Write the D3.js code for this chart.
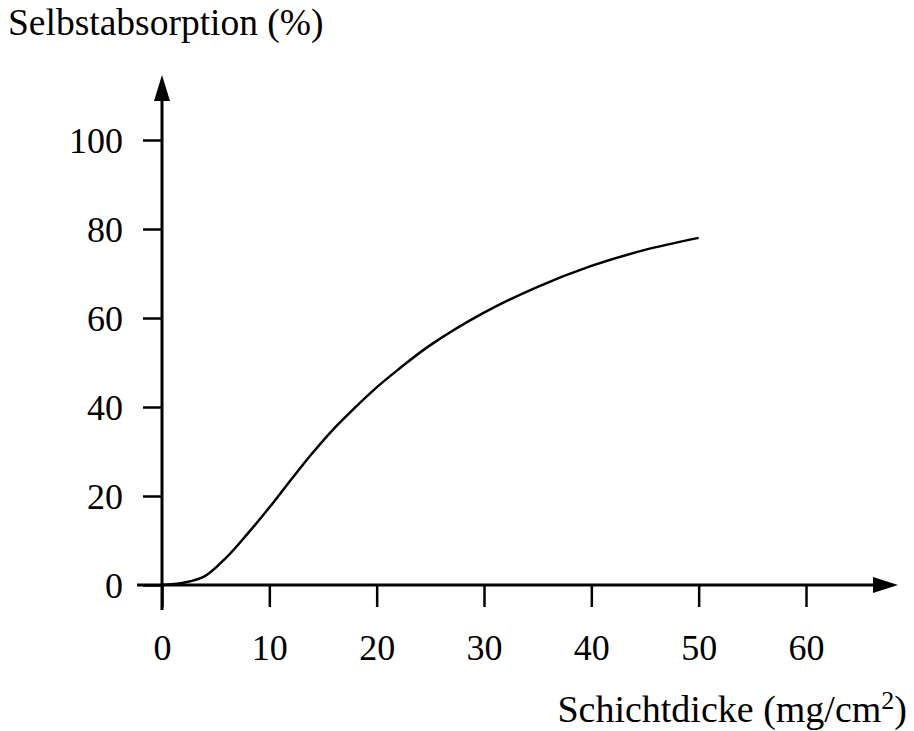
<!DOCTYPE html>
<html>
<head>
<meta charset="utf-8">
<script src="https://d3js.org/d3.v7.min.js"></script>
<style>
  body { margin: 0; background: #fff; }
  text { font-family: "Liberation Serif", "Times New Roman", serif; fill: #000; }
</style>
</head>
<body>
<script>
  // values
  var thickness = [0, 2, 4, 6, 8, 10, 12, 14, 16, 18, 20, 22, 25, 30, 35, 40, 45, 50];
  var absorption = [0, 0.5, 2, 6.2, 11.6, 17.4, 23.6, 29.6, 35.1, 39.9, 44.4, 48.4, 53.9, 61.2, 67, 71.7, 75.3, 78];
  var xTicks = [0, 10, 20, 30, 40, 50, 60];
  var yTicks = [0, 20, 40, 60, 80, 100];

  var width = 914, height = 731;

  var svg = d3.select("body").append("svg")
      .attr("width", width)
      .attr("height", height);

  var x = d3.scaleLinear().domain([0, 60]).range([162, 806]);
  var y = d3.scaleLinear().domain([0, 100]).range([585, 140]);

  // x axis ticks + labels
  var xAxis = svg.append("g")
      .attr("transform", "translate(0," + y(0) + ")")
      .call(d3.axisBottom(x).tickValues(xTicks).tickSize(22).tickSizeOuter(0).tickFormat(d3.format("d")));
  xAxis.select(".domain").remove();
  xAxis.selectAll(".tick line").attr("stroke", "#000").attr("stroke-width", 2.5);
  xAxis.selectAll(".tick text")
      .attr("y", 75).attr("dy", 0)
      .style("font-size", "36px");

  // y axis ticks + labels
  var yAxis = svg.append("g")
      .attr("transform", "translate(" + x(0) + ",0)")
      .call(d3.axisLeft(y).tickValues(yTicks).tickSize(19).tickSizeOuter(0).tickFormat(d3.format("d")));
  yAxis.select(".domain").remove();
  yAxis.selectAll(".tick line").attr("stroke", "#000").attr("stroke-width", 2.5);
  yAxis.selectAll(".tick text")
      .attr("x", -39).attr("dy", "0.36em")
      .style("font-size", "36px");

  // axis lines with arrows
  svg.append("line")
      .attr("x1", 137).attr("x2", 876)
      .attr("y1", y(0)).attr("y2", y(0))
      .attr("stroke", "#000").attr("stroke-width", 3);
  svg.append("line")
      .attr("x1", x(0)).attr("x2", x(0))
      .attr("y1", 610).attr("y2", 98)
      .attr("stroke", "#000").attr("stroke-width", 3);

  svg.append("path")
      .attr("d", "M873," + (y(0) - 8) + "L898," + y(0) + "L873," + (y(0) + 8) + "Z")
      .attr("fill", "#000");
  svg.append("path")
      .attr("d", "M" + (x(0) - 8) + ",101L" + x(0) + ",75L" + (x(0) + 8) + ",101Z")
      .attr("fill", "#000");

  // curve
  var line = d3.line()
      .x(function(d, i) { return x(thickness[i]); })
      .y(function(d) { return y(d); })
      .curve(d3.curveCatmullRom.alpha(0.5));

  svg.append("path")
      .datum(absorption)
      .attr("d", line)
      .attr("fill", "none")
      .attr("stroke", "#000")
      .attr("stroke-width", 2.5);

  // titles
  svg.append("text")
      .attr("x", 8).attr("y", 35)
      .style("font-size", "37.5px")
      .text("Selbstabsorption (%)");

  var xt = svg.append("text")
      .attr("x", 907).attr("y", 722)
      .attr("text-anchor", "end")
      .style("font-size", "38px");
  xt.append("tspan").text("Schichtdicke (mg/cm");
  xt.append("tspan").attr("dy", -13).style("font-size", "26px").text("2");
  xt.append("tspan").attr("dy", 13).text(")");
</script>
</body>
</html>
